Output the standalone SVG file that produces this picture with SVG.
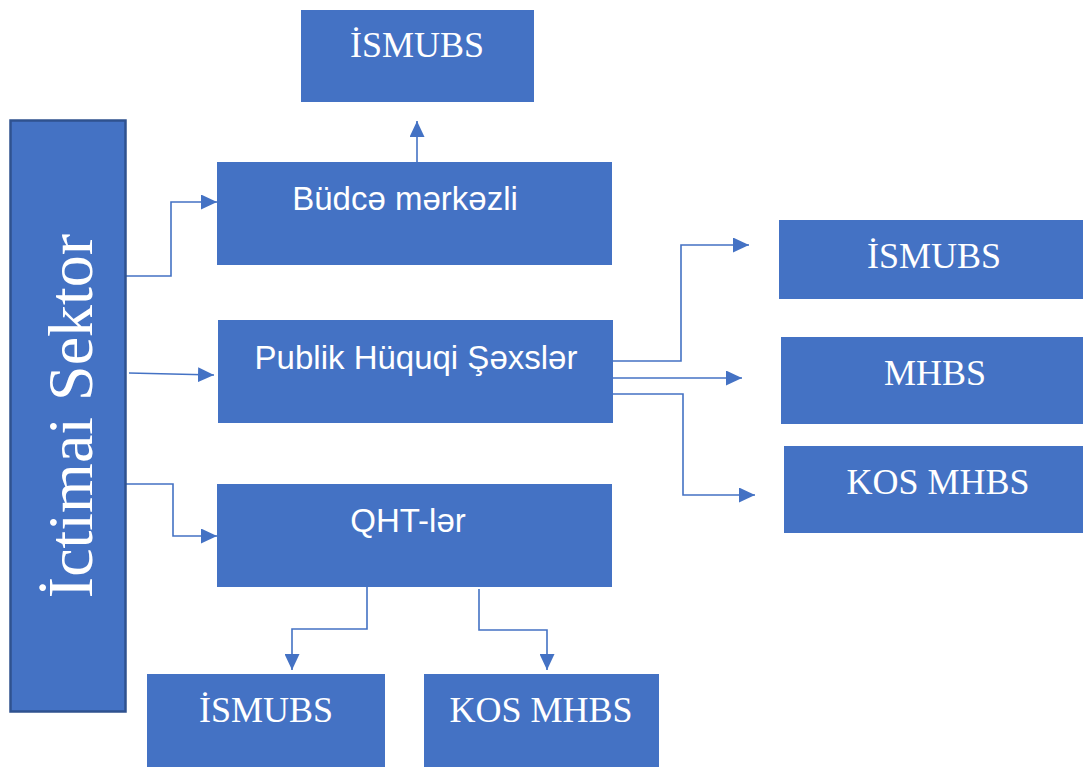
<svg xmlns="http://www.w3.org/2000/svg" width="1083" height="767" viewBox="0 0 1083 767">
  <style>
    .box { fill: #4472C4; }
    .main { fill: #4472C4; stroke: #2F528F; stroke-width: 2.5; }
    .serif { font-family: "Liberation Serif", "Times New Roman", serif; fill: #FFFFFF; text-anchor: middle; }
    .sans { font-family: "Liberation Sans", Arial, sans-serif; fill: #FFFFFF; text-anchor: middle; font-size: 33px; }
    .lbl { font-size: 36px; }
    .link { fill: none; stroke: #4472C4; stroke-width: 1.6; marker-end: url(#arrow); }
  </style>
  <defs>
    <marker id="arrow" markerUnits="userSpaceOnUse" markerWidth="16" markerHeight="15" refX="16" refY="7.5" orient="auto">
      <path d="M0,0 L16,7.5 L0,15 Z" fill="#4472C4"/>
    </marker>
  </defs>
  <rect width="1083" height="767" fill="#FFFFFF"/>

  <!-- connectors -->
  <g id="connectors">
    <polyline class="link" points="126,276 171,276 171,202 217,202"/>
    <polyline class="link" points="129,373 214,375"/>
    <polyline class="link" points="126,484 173,484 173,536 217,536"/>
    <polyline class="link" points="417,162 417,121"/>
    <polyline class="link" points="613,361 681,361 681,245 749,245"/>
    <polyline class="link" points="613,378 742,378"/>
    <polyline class="link" points="613,394 683,394 683,495 755,495"/>
    <polyline class="link" points="367,587 367,629 292,629 292,670"/>
    <polyline class="link" points="479,589 479,630 547,630 547,670"/>
  </g>

  <!-- left column -->
  <g id="ictimai-sektor">
    <rect class="main" x="10.5" y="120.5" width="115" height="591"/>
    <text class="serif" font-size="64" transform="translate(92,416) rotate(-90)">İctimai Sektor</text>
  </g>

  <!-- middle column -->
  <g id="budce-merkezli">
    <rect class="box" x="217" y="162" width="395" height="103"/>
    <text class="sans" x="405" y="210">Büdcə mərkəzli</text>
  </g>
  <g id="publik">
    <rect class="box" x="218" y="320" width="395" height="103"/>
    <text class="sans" x="416" y="369">Publik Hüquqi Şəxslər</text>
  </g>
  <g id="qht">
    <rect class="box" x="217" y="484" width="395" height="103"/>
    <text class="sans" x="408" y="532">QHT-lər</text>
  </g>

  <!-- top -->
  <g id="ismubs-top">
    <rect class="box" x="301" y="10" width="233" height="92"/>
    <text class="serif lbl" x="417" y="57">İSMUBS</text>
  </g>

  <!-- right column -->
  <g id="ismubs-right">
    <rect class="box" x="779" y="220" width="306" height="79"/>
    <text class="serif lbl" x="934" y="268">İSMUBS</text>
  </g>
  <g id="mhbs-right">
    <rect class="box" x="781" y="337" width="304" height="87"/>
    <text class="serif lbl" x="935" y="385">MHBS</text>
  </g>
  <g id="kos-mhbs-right">
    <rect class="box" x="784" y="446" width="301" height="87"/>
    <text class="serif lbl" x="938" y="494">KOS MHBS</text>
  </g>

  <!-- bottom row -->
  <g id="ismubs-bottom">
    <rect class="box" x="147" y="674" width="238" height="95"/>
    <text class="serif lbl" x="266" y="722">İSMUBS</text>
  </g>
  <g id="kos-mhbs-bottom">
    <rect class="box" x="424" y="674" width="235" height="95"/>
    <text class="serif lbl" x="541" y="722">KOS MHBS</text>
  </g>
</svg>
